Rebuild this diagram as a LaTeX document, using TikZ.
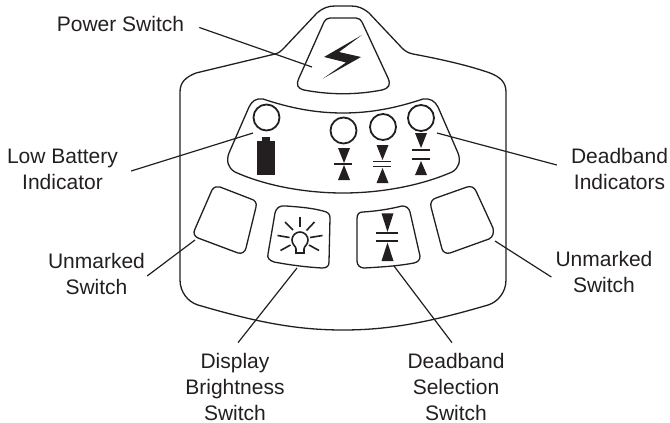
\documentclass[tikz,border=0pt]{standalone}
\usepackage{fontspec}
\setmainfont{Liberation Sans}
\definecolor{ink}{HTML}{231F20}
\tikzset{
  outline/.style={draw=ink,line width=1.3pt,line join=round},
  leader/.style={draw=ink,line width=1.2pt},
  solid ink/.style={fill=ink,draw=none},
  bar/.style={draw=ink,line width=1.8pt},
  lamp/.style={draw=ink,line width=1.8pt,circle,minimum size=26pt,inner sep=0pt},
  ray/.style={draw=ink,line width=1.6pt},
  lbl/.style={text=ink,align=center,font=\fontsize{21}{26}\selectfont,inner sep=0pt,anchor=center},
}
\newcommand{\tridown}[3]{\fill[solid ink] (#1-6,#2) -- (#1+6,#2) -- (#1,#3) -- cycle;}
\begin{document}
\begin{tikzpicture}[x=1pt,y=-1pt]
\useasboundingbox (0,0) rectangle (670,423);
% body
\draw[outline] (275,54) .. controls (279,53) and (281,51) .. (284,48)
  -- (317,13) .. controls (323,8) and (328,6) .. (335,6)
  -- (351,6) .. controls (358,6) and (363,8) .. (369,13)
  -- (402,48) .. controls (405,51) and (408,53) .. (413,54)
  .. controls (445,60) and (470,66) .. (490,73)
  .. controls (500,77) and (506,82) .. (506,92)
  -- (506,280) .. controls (506,292) and (498,302) .. (488,305)
  .. controls (430,322) and (390,330) .. (343,330)
  .. controls (296,330) and (256,322) .. (198,305)
  .. controls (188,302) and (180,292) .. (180,280)
  -- (180,92) .. controls (180,82) and (186,77) .. (196,73)
  -- cycle;
% power switch
\draw[outline] (330,18) -- (356,18) .. controls (359,18) and (361,20) .. (362,22)
  -- (388,78) .. controls (391,85) and (389,88) .. (382,90)
  .. controls (356,95) and (330,95) .. (304,90)
  .. controls (297,88) and (296,85) .. (299,78)
  -- (324,22) .. controls (325,20) and (327,18) .. (330,18) -- cycle;
\fill[solid ink] (362,35) -- (324,57) -- (346,62.5) -- (323,78.5) -- (361,57) -- (339,52) -- cycle;
% indicator panel
\draw[outline] (263,99) .. controls (290,108) and (315,113) .. (343,113)
  .. controls (371,113) and (396,108) .. (423,99)
  .. controls (430,98) and (435,101) .. (438,107)
  -- (458,153) .. controls (461,161) and (459,168) .. (452,172)
  .. controls (420,186) and (380,193) .. (343,193)
  .. controls (306,193) and (266,186) .. (235,172)
  .. controls (228,168) and (226,161) .. (229,153)
  -- (249,107) .. controls (252,101) and (256,98) .. (263,99) -- cycle;
\node[lamp] (lampA) at (266.5,117.5) {};
\node[lamp] (lampB) at (343.5,130.5) {};
\node[lamp] (lampC) at (383,127) {};
\node[lamp] (lampD) at (421,118) {};
% battery
\fill[solid ink] (257,141) rectangle (275,175);
\fill[solid ink] (262,137) rectangle (270,141);
% deadband symbols
\tridown{344}{148}{163}
\tridown{344}{180}{165}
\draw[bar] (334,164) -- (352,164);
\tridown{382.5}{145}{160}
\tridown{382.5}{183}{168}
\draw[bar] (373,161.5) -- (391,161.5);
\draw[bar] (373,166.5) -- (391,166.5);
\tridown{421}{133}{148}
\tridown{421}{175}{161}
\draw[bar] (412,150) -- (430,150);
\draw[bar] (412,159) -- (430,159);
% unmarked switches
\draw[outline] (212,190) .. controls (214,187) and (217,186) .. (220,187)
  -- (251,199) .. controls (255,200) and (257,203) .. (256,207)
  -- (246,248) .. controls (245,252) and (242,254) .. (238,253)
  -- (198,238) .. controls (194,236) and (193,233) .. (195,229) -- cycle;
\draw[outline] (467,187) .. controls (471,186) and (474,187) .. (476,191)
  -- (493,228) .. controls (494,233) and (493,237) .. (489,239)
  -- (450,253) .. controls (446,254) and (443,252) .. (442,249)
  -- (431,207) .. controls (430,203) and (432,199) .. (436,198) -- cycle;
% brightness switch
\draw[outline] (286,206) .. controls (300,207) and (312,208) .. (323,211)
  .. controls (328,212) and (330,214) .. (330,218)
  -- (329,262) .. controls (329,266) and (327,268) .. (322,268)
  .. controls (305,267) and (290,265) .. (274,262)
  .. controls (269,260) and (267,258) .. (268,254)
  -- (275,213) .. controls (276,208) and (280,205) .. (286,206) -- cycle;
\draw[draw=ink,line width=1.6pt] (296,253) -- (296,249) .. controls (296,246) and (292,245) .. (292,240)
  arc[start angle=180,end angle=360,radius=8]
  .. controls (308,245) and (304,246) .. (304,249) -- (304,253) -- cycle;
\draw[ray] (300,216.5) -- (300,227);
\draw[ray] (285,222) -- (293,230);
\draw[ray] (314.5,222) -- (306.5,230.5);
\draw[ray] (277.5,235.5) -- (289.5,237.5);
\draw[ray] (322.5,235.5) -- (310,237.5);
\draw[ray] (280.5,250.5) -- (290.5,245);
\draw[ray] (319,250.5) -- (309,245);
% deadband switch
\draw[outline] (363,212) .. controls (378,211) and (390,209) .. (402,206)
  .. controls (406,206) and (409,208) .. (410,212)
  -- (420,256) .. controls (420,260) and (418,262) .. (414,263)
  .. controls (398,266) and (382,267) .. (364,268)
  .. controls (360,268) and (357,265) .. (357,261)
  -- (357,219) .. controls (357,214) and (359,212) .. (363,212) -- cycle;
\tridown{387.5}{213.3}{232}
\tridown{387.5}{261}{242.5}
\draw[bar] (376,232.7) -- (398,232.7);
\draw[bar] (376,241) -- (398,241);
% labels
\node[lbl] (lblPower) at (120.5,23.5) {Power Switch};
\node[lbl] (lblBattery) at (62.5,169.4) {Low Battery\\Indicator};
\node[lbl] (lblIndicators) at (619.5,168.9) {Deadband\\Indicators};
\node[lbl] (lblUnmarkedL) at (96.5,273.5) {Unmarked\\Switch};
\node[lbl] (lblUnmarkedR) at (604,272.4) {Unmarked\\Switch};
\node[lbl] (lblBright) at (235,386.6) {Display\\Brightness\\Switch};
\node[lbl] (lblSelect) at (456,386.6) {Deadband\\Selection\\Switch};
% leader ends
\coordinate (endPower) at (312,67);
\coordinate (endBattery) at (253,133);
\coordinate (endIndicators) at (437,133);
\coordinate (endUnmarkedL) at (195,240);
\coordinate (endUnmarkedR) at (495,241);
\coordinate (endBright) at (297,268);
\coordinate (endSelect) at (394,266);
\draw[leader] ([xshift=15pt,yshift=-4pt]lblPower.east) -- (endPower);
\draw[leader] ([xshift=13pt,yshift=-1.6pt]lblBattery.east) -- (endBattery);
\draw[leader] ([xshift=-14pt,yshift=3.9pt]lblIndicators.west) -- (endIndicators);
\draw[leader] ([xshift=2pt,yshift=-2.5pt]lblUnmarkedL.east) -- (endUnmarkedL);
\draw[leader] ([xshift=-4pt,yshift=-4.6pt]lblUnmarkedR.west) -- (endUnmarkedR);
\draw[leader] ([xshift=3pt,yshift=10pt]lblBright.north) -- (endBright);
\draw[leader] ([xshift=-4pt,yshift=10pt]lblSelect.north) -- (endSelect);
\end{tikzpicture}
\end{document}
